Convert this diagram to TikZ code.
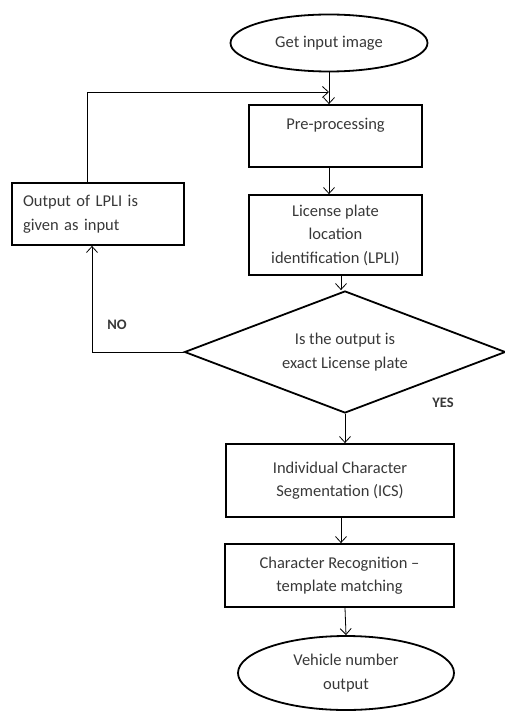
\documentclass[tikz,border=0pt]{standalone}
\usepackage{fontspec}
\setmainfont{Carlito}
\usetikzlibrary{arrows.meta,shapes.geometric,positioning}

\begin{document}
\begin{tikzpicture}[x=1pt,y=-1pt,
    every node/.style={text=black!78,font=\fontsize{16.5}{23.5}\selectfont},
    stepbox/.style={draw=black,line width=1.8pt,rectangle,align=center},
    terminal/.style={draw=black,line width=1.8pt,ellipse,align=center},
    decision/.style={draw=black,line width=1.8pt,diamond,aspect=2.63,align=center},
    flow/.style={draw=black,line width=0.8pt,-{Straight Barb[length=6pt,width=11pt]}},
    tag/.style={font=\fontsize{14.5}{16}\selectfont\bfseries}]
    \useasboundingbox (0,0) rectangle (505,711);
    % blocks
    \node[terminal,minimum width=197pt,minimum height=57pt] (start) at (329,43) {Get input image};
    \node[stepbox,minimum width=173pt,minimum height=62pt] (preproc) at (335.5,136) {Pre-processing\\\mbox{}};
    \node[stepbox,minimum width=173pt,minimum height=80pt] (lpli) at (335.5,235) {License plate\\location\\identification (LPLI)};
    \node[stepbox,minimum width=172pt,minimum height=62pt,text width=150pt,align=left] (feedback) at (98,214) {Output of LPLI is\\given as input};
    \node[decision,minimum width=321pt,minimum height=122pt,inner sep=0pt] (check) at (345,352) {Is the output is\\exact License plate};
    \node[stepbox,minimum width=228pt,minimum height=73pt] (ics) at (340,480.5) {Individual Character\\Segmentation (ICS)};
    \node[stepbox,minimum width=229pt,minimum height=63pt] (recog) at (339.5,575.5) {Character Recognition --\\template matching};
    \node[terminal,minimum width=216pt,minimum height=74pt] (finish) at (346,673) {Vehicle number\\output};
    % labels
    \node[tag] (no) at (117,325) {NO};
    \node[tag] (yes) at (443,403) {YES};
    % connectors
    \coordinate (join) at (329,92);
    \draw[flow] (start.south) -- (start.south |- preproc.north);
    \draw[flow] (preproc.south -| 329,0) -- (329,0 |- lpli.north);
    \draw[flow] (lpli.south -| 341,0) -- (341,0 |- check.north);
    \draw[flow] (check.south) -- (check.south |- ics.north);
    \draw[flow] (ics.south -| 341,0) -- (341,0 |- recog.north);
    \draw[flow] (recog.south -| 345,0) -- (finish.north);
    \draw[flow] (check.west) -- (92,0 |- check.west) -- (92,0 |- feedback.south);
    \draw[flow] (feedback.north -| 87,0) -- (87,0 |- join) -- (join);
\end{tikzpicture}
\end{document}
